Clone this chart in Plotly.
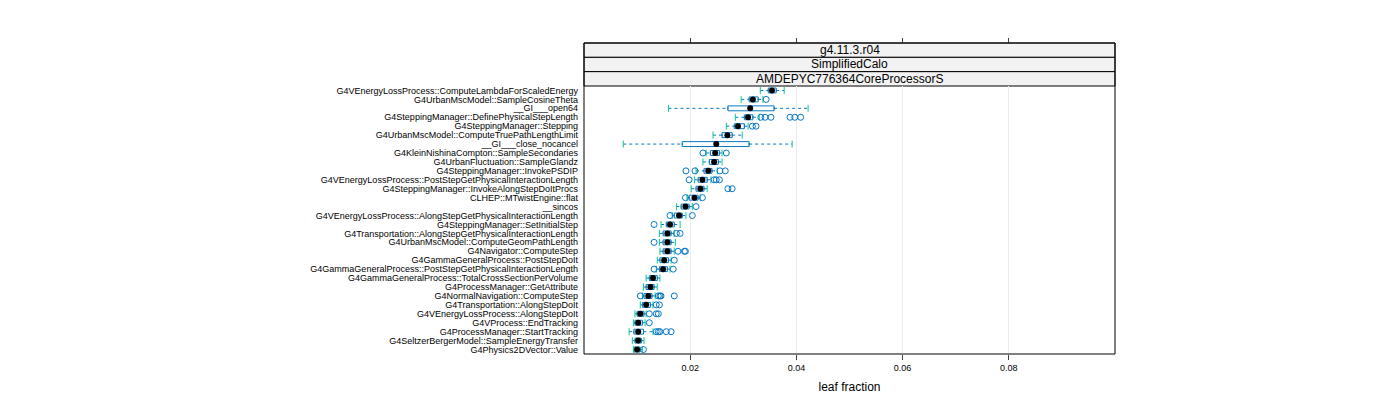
import plotly.graph_objects as go

functions = [
    "G4VEnergyLossProcess::ComputeLambdaForScaledEnergy",
    "G4UrbanMscModel::SampleCosineTheta",
    "__GI___open64",
    "G4SteppingManager::DefinePhysicalStepLength",
    "G4SteppingManager::Stepping",
    "G4UrbanMscModel::ComputeTruePathLengthLimit",
    "__GI___close_nocancel",
    "G4KleinNishinaCompton::SampleSecondaries",
    "G4UrbanFluctuation::SampleGlandz",
    "G4SteppingManager::InvokePSDIP",
    "G4VEnergyLossProcess::PostStepGetPhysicalInteractionLength",
    "G4SteppingManager::InvokeAlongStepDoItProcs",
    "CLHEP::MTwistEngine::flat",
    "__sincos",
    "G4VEnergyLossProcess::AlongStepGetPhysicalInteractionLength",
    "G4SteppingManager::SetInitialStep",
    "G4Transportation::AlongStepGetPhysicalInteractionLength",
    "G4UrbanMscModel::ComputeGeomPathLength",
    "G4Navigator::ComputeStep",
    "G4GammaGeneralProcess::PostStepDoIt",
    "G4GammaGeneralProcess::PostStepGetPhysicalInteractionLength",
    "G4GammaGeneralProcess::TotalCrossSectionPerVolume",
    "G4ProcessManager::GetAttribute",
    "G4NormalNavigation::ComputeStep",
    "G4Transportation::AlongStepDoIt",
    "G4VEnergyLossProcess::AlongStepDoIt",
    "G4VProcess::EndTracking",
    "G4ProcessManager::StartTracking",
    "G4SeltzerBergerModel::SampleEnergyTransfer",
    "G4Physics2DVector::Value",
]

lower = [.0332, .0296, .0159, .0285, .0268, .0243, .0074, .0230, .0224, .0211,
         .0208, .0202, .0194, .0174, .0166, .0145, .0142, .0142, .0143, .0138,
         .0136, .0117, .0112, .0110, .0106, .0096, .0093, .0085, .0091, .0093]
q1 = [.0347, .0311, .0271, .0302, .0283, .0260, .0185, .0238, .0236, .0226,
      .0215, .0211, .0198, .0183, .0170, .0155, .0149, .0149, .0149, .0143,
      .0142, .0123, .0117, .0113, .0110, .0100, .0096, .0094, .0096, .0094]
median = [.0354, .0318, .0313, .0309, .0290, .0270, .0249, .0247, .0245, .0234,
          .0223, .0219, .0208, .0191, .0179, .0162, .0157, .0157, .0157, .0151,
          .0149, .0130, .0125, .0121, .0117, .0106, .0102, .0102, .0102, .0100]
q3 = [.0362, .0328, .0358, .0318, .0302, .0279, .0311, .0255, .0253, .0241,
      .0232, .0226, .0215, .0198, .0185, .0170, .0164, .0164, .0164, .0159,
      .0157, .0138, .0132, .0128, .0125, .0113, .0110, .0112, .0108, .0106]
upper = [.0377, .0337, .0422, .0330, .0309, .0298, .0392, .0260, .0260, .0251,
         .0239, .0232, .0219, .0204, .0192, .0181, .0170, .0172, .0170, .0164,
         .0162, .0143, .0138, .0134, .0130, .0117, .0115, .0130, .0113, .0110]
outliers = [
    [], [.0343], [], [.0333, .0341, .0352, .0388, .0397, .0408], [.0317, .0324],
    [], [], [.0224, .0268], [], [.0192, .0209, .0256, .0266],
    [.0198, .0245, .0249, .0255], [.0271, .0279], [.0191, .0223], [.0211], [.0162, .0204],
    [.0132], [.0174, .0181], [.0132], [.0177, .0189, .0191], [.0170],
    [.0132, .0168], [], [], [.0106, .0140, .0143, .0145, .0170], [.0136, .0142],
    [.0123, .0136, .0140], [.0123], [.0136, .0140, .0143, .0155, .0164], [], [.0112],
]
strips = ["g4.11.3.r04", "SimplifiedCalo", "AMDEPYC776364CoreProcessorS"]

BLUE = "#0a78c2"

fig = go.Figure()

fig.add_trace(go.Box(
    y=functions, q1=q1, median=median, q3=q3, lowerfence=q1, upperfence=q3,
    orientation="h", fillcolor="rgba(0,0,0,0)", line=dict(color=BLUE, width=1),
    width=0.55, hoverinfo="skip", showlegend=False,
))

wx, wy = [], []
for f, lo, a, b, hi in zip(functions, lower, q1, q3, upper):
    wx += [lo, a, None, b, hi, None]
    wy += [f, f, None, f, f, None]
fig.add_trace(go.Scatter(x=wx, y=wy, mode="lines",
                         line=dict(color=BLUE, width=1, dash="3px,3px"), showlegend=False))

fig.add_trace(go.Scatter(
    x=lower + upper, y=functions + functions, mode="markers",
    marker=dict(symbol="line-ns-open", size=5, line=dict(color=BLUE, width=1)),
    showlegend=False))

ox, oy = [], []
for f, outs in zip(functions, outliers):
    ox += outs
    oy += [f] * len(outs)
fig.add_trace(go.Scatter(
    x=ox, y=oy, mode="markers",
    marker=dict(symbol="circle-open", size=6, color=BLUE, line=dict(width=1)),
    showlegend=False))

fig.add_trace(go.Scatter(x=median, y=functions, mode="markers",
                         marker=dict(color="black", size=6), showlegend=False))

# invisible trace so the top tick axis gets drawn
fig.add_trace(go.Scatter(x=[0.0, 0.1], y=[functions[0]] * 2, xaxis="x2",
                         mode="markers", marker=dict(opacity=0), showlegend=False,
                         hoverinfo="skip"))

dom = 268 / 311
band = (1 - dom) / 3
shapes = []
annotations = []
for i, s in enumerate(strips):
    y1 = 1 - i * band
    y0 = y1 - band
    shapes.append(dict(type="rect", xref="paper", yref="paper", x0=0, x1=1, y0=y0, y1=y1,
                       fillcolor="#f2f2f2", line=dict(color="black", width=1), layer="below"))
    annotations.append(dict(text=s, xref="paper", yref="paper", x=0.5, y=(y0 + y1) / 2,
                            xanchor="center", yanchor="middle", showarrow=False,
                            font=dict(size=12, color="black")))
shapes.append(dict(type="rect", xref="paper", yref="paper", x0=0, x1=1, y0=0, y1=1,
                   line=dict(color="black", width=1)))

tick_vals = [0.02, 0.04, 0.06, 0.08]
fig.update_layout(
    width=1400, height=400,
    margin=dict(l=576, r=293, t=35, b=54),
    plot_bgcolor="white", paper_bgcolor="white",
    font=dict(family="Liberation Sans, Arial, sans-serif", size=9, color="black"),
    shapes=shapes, annotations=annotations,
    xaxis=dict(range=[0, 0.1], tickvals=tick_vals, ticks="outside", ticklen=5,
               showgrid=True, gridcolor="#ececec", zeroline=False, showline=False,
               automargin=False,
               title=dict(text="leaf fraction", font=dict(size=12), standoff=10)),
    xaxis2=dict(range=[0, 0.1], tickvals=tick_vals, ticks="outside", ticklen=5,
                overlaying="x", side="top", anchor="free", position=1,
                showticklabels=False, showgrid=False, zeroline=False, automargin=False),
    yaxis=dict(domain=[0, dom], type="category", categoryorder="array",
               categoryarray=functions, range=[len(functions) - 0.5, -0.5],
               tickmode="array", tickvals=functions, ticktext=functions,
               showgrid=False, zeroline=False, ticks="", ticklabelstandoff=5,
               automargin=False),
)

fig.write_html("out.html")
